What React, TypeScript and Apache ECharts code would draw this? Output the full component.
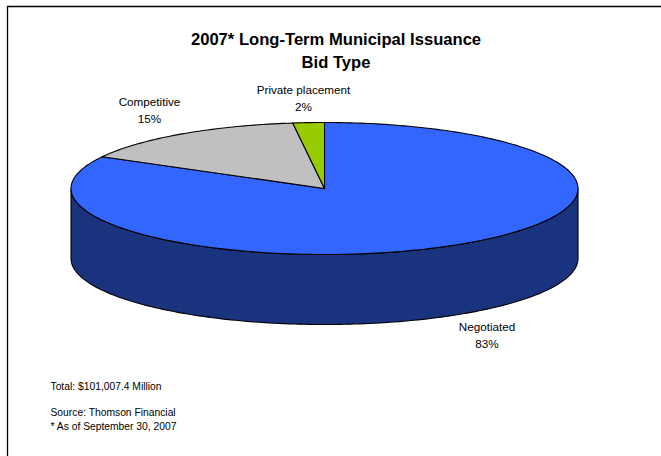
import React, { useEffect, useRef } from "react";
import * as echarts from "echarts";

const categories = ["Negotiated", "Competitive", "Private placement"];
const shares = [83, 15, 2];
const topColors = ["#3366FF", "#C0C0C0", "#99CC00"];
const wallColors = ["#1A337F", "#606060", "#4D6600"];
const titleLines = ["2007* Long-Term Municipal Issuance", "Bid Type"];
const noteLines = ["Source: Thomson Financial", "* As of September 30, 2007"];
const totalNote = "Total: $101,007.4 Million";

// Pie geometry on the page: ellipse centre, radii and the height of the wall.
const CX = 324.5;
const CY = 188.5;
const RX = 253.5;
const RY = 66;
const DEPTH = 70;

const rim = (angle: number, drop = 0): number[] => [
  CX + RX * Math.sin(angle),
  CY - RY * Math.cos(angle) + drop,
];

const arcPoints = (from: number, to: number, drop = 0): number[][] => {
  const steps = Math.max(2, Math.ceil(Math.abs(to - from) / 0.02));
  const pts: number[][] = [];
  for (let i = 0; i <= steps; i++) pts.push(rim(from + ((to - from) * i) / steps, drop));
  return pts;
};

const total = shares.reduce((a, b) => a + b, 0);
const toAngle = (v: number) => (v / total) * Math.PI * 2;

export default function App() {
  const ref = useRef<HTMLDivElement>(null);
  useEffect(() => {
    const chart = echarts.init(ref.current!, undefined, { renderer: "svg" });
    const edge = { stroke: "#000", lineWidth: 1.1 };
    const noteFont = "10.3px 'Liberation Sans'";
    const labelFont = "11.7px 'Liberation Sans'";
    chart.setOption({
      animation: false,
      backgroundColor: "#fff",
      title: {
        text: titleLines.join("\n"),
        left: 331,
        top: 23,
        textAlign: "center",
        textStyle: {
          fontFamily: "Liberation Sans",
          fontSize: 16.6,
          fontWeight: "bold",
          color: "#000",
          lineHeight: 23,
        },
      },
      graphic: [
        { type: "polyline", shape: { points: [[7.5, 456], [7.5, 6.5], [661, 6.5]] }, style: { fill: "none", stroke: "#000", lineWidth: 1.3 }, silent: true },
        { type: "text", x: 50.5, y: 381, style: { text: totalNote, font: noteFont, fill: "#000" } },
        { type: "text", x: 50.5, y: 407, style: { text: noteLines[0], font: noteFont, fill: "#000" } },
        { type: "text", x: 50.5, y: 421, style: { text: noteLines[1], font: noteFont, fill: "#000" } },
        { type: "text", x: 487, y: 318, style: { text: categories[0] + "\n" + shares[0] + "%", font: labelFont, fill: "#000", align: "center", lineHeight: 17 } },
        { type: "text", x: 149.5, y: 93, style: { text: categories[1] + "\n" + shares[1] + "%", font: labelFont, fill: "#000", align: "center", lineHeight: 17 } },
        { type: "text", x: 303.5, y: 81, style: { text: categories[2] + "\n" + shares[2] + "%", font: labelFont, fill: "#000", align: "center", lineHeight: 17 } },
      ],
      series: [
        {
          type: "custom",
          coordinateSystem: "none",
          data: shares.map((v, i) => ({ value: [v, i], name: categories[i] })),
          renderItem: (_p: any, api: any) => {
            const i = api.value(1) as number;
            const start = toAngle(shares.slice(0, i).reduce((a, b) => a + b, 0));
            const end = start + toAngle(api.value(0) as number);
            const children: any[] = [];
            // The wall is only visible on the front half of the rim.
            const wallFrom = Math.max(start, Math.PI / 2);
            const wallTo = Math.min(end, (Math.PI * 3) / 2);
            if (wallTo > wallFrom) {
              children.push({
                type: "polygon",
                shape: { points: [...arcPoints(wallFrom, wallTo), ...arcPoints(wallTo, wallFrom, DEPTH)] },
                style: { fill: wallColors[i], ...edge },
              });
            }
            children.push({
              type: "polygon",
              shape: { points: [[CX, CY], ...arcPoints(start, end)] },
              style: { fill: topColors[i], ...edge },
            });
            return { type: "group", children };
          },
        },
      ],
    });
    return () => chart.dispose();
  }, []);
  return <div ref={ref} style={{ width: 661, height: 456, position: "absolute", left: 0, top: 0 }} />;
}
